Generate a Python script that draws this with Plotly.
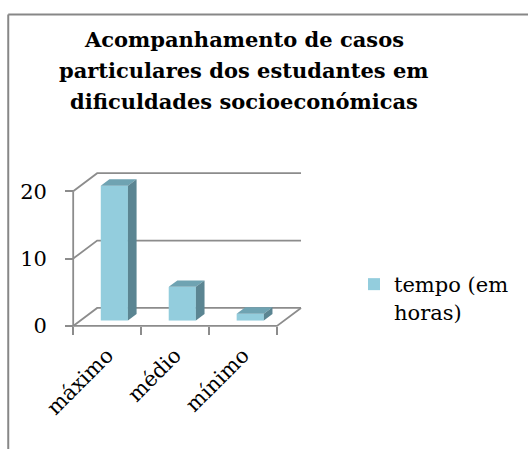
import plotly.graph_objects as go

# ---- data -------------------------------------------------------------
categories = ["máximo", "médio", "mínimo"]
horas = [20, 5, 1]
y_ticks = [0, 10, 20]
series_name = "tempo (em<br>horas)"
title_lines = [
    "Acompanhamento de casos",
    "particulares dos estudantes em",
    "dificuldades socioeconómicas",
]

# ---- geometry of the pseudo-3D box (axis units) -----------------------
W, H = 528, 449
PX_X, PX_Y = 68.0, 6.725          # pixels per category / per hour
X0_PX, Y0_PX = 73.0, 326.0        # pixel position of the front-left floor corner
X_RANGE = [-0.15, 3.5]
Y_RANGE = [-0.6, 23.3]

DX, DY = 24 / PX_X, 18 / PX_Y      # floor depth vector
BAR_W = 0.4                         # bar width (categories)
BAR_Z = 0.3                         # depth of the bar front faces
BAR_D = 0.36                        # bar depth, share of floor depth

GRID = "#8c8c8c"
FRONT, TOP, SIDE = "#93cddd", "#6fa3b2", "#5b8592"
FONT = "DejaVu Serif"
TXT = 21

left = X0_PX + X_RANGE[0] * PX_X
right = X0_PX + X_RANGE[1] * PX_X
top = Y0_PX - Y_RANGE[1] * PX_Y
bottom = Y0_PX - Y_RANGE[0] * PX_Y
plot_w, plot_h = right - left, bottom - top


def paper_x(px):
    return (px - left) / plot_w


def paper_y(py):
    return (bottom - py) / plot_h


n = len(categories)
centers = [i + 0.5 for i in range(n)]
bar_x = [c + BAR_Z * DX for c in centers]
base = BAR_Z * DY
ddx, ddy = BAR_D * DX, BAR_D * DY

fig = go.Figure()

# front faces of the columns
fig.add_trace(go.Bar(
    x=bar_x, y=horas, base=[base] * n, width=BAR_W,
    marker=dict(color=FRONT, line=dict(width=0)),
    name=series_name, hoverinfo="skip",
))

# top and right-hand faces
top_x, top_y, side_x, side_y = [], [], [], []
for xc, v in zip(bar_x, horas):
    xl, xr = xc - BAR_W / 2, xc + BAR_W / 2
    yb, yt = base, base + v
    top_x += [xl, xr, xr + ddx, xl + ddx, xl, None]
    top_y += [yt, yt, yt + ddy, yt + ddy, yt, None]
    side_x += [xr, xr + ddx, xr + ddx, xr, xr, None]
    side_y += [yb, yb + ddy, yt + ddy, yt, yb, None]

for fx, fy, col in ((top_x, top_y, TOP), (side_x, side_y, SIDE)):
    fig.add_trace(go.Scatter(
        x=fx, y=fy, mode="lines", fill="toself", fillcolor=col,
        line=dict(width=0, color=col), showlegend=False, hoverinfo="skip",
    ))

# walls, floor and gridlines
shapes = []
line = dict(color=GRID, width=1.8)
for v in y_ticks:
    shapes.append(dict(
        type="path", xref="x", yref="y", layer="below", line=line,
        path=f"M0,{v} L{DX},{v + DY} L{n + DX},{v + DY}",
    ))
shapes.append(dict(type="path", xref="x", yref="y", layer="below", line=line,
                   path=f"M0,0 L{n},0 L{n + DX},{DY}"))
shapes.append(dict(type="path", xref="x", yref="y", layer="below", line=line,
                   path=f"M0,0 L0,{max(y_ticks)}"))

# chart-area frame
frame = dict(color="#878787", width=2)
shapes.append(dict(type="line", xref="paper", yref="paper", line=frame,
                   x0=paper_x(8), x1=paper_x(8), y0=paper_y(15), y1=paper_y(470)))
shapes.append(dict(type="line", xref="paper", yref="paper", line=frame,
                   x0=paper_x(8), x1=paper_x(560), y0=paper_y(15), y1=paper_y(15)))

# title, one annotation per line
annotations = []
for txt, yc in zip(title_lines, [40, 71, 102]):
    annotations.append(dict(
        text=f"<b>{txt}</b>", xref="paper", yref="paper",
        x=paper_x(244), y=paper_y(yc), xanchor="center", yanchor="middle",
        showarrow=False, font=dict(family=FONT, size=21, color="black"),
    ))

fig.update_layout(
    width=W, height=H,
    margin=dict(l=left, r=W - right, t=top, b=H - bottom, pad=0),
    paper_bgcolor="white", plot_bgcolor="white",
    font=dict(family=FONT, size=TXT, color="black"),
    shapes=shapes, annotations=annotations,
    showlegend=True,
    legend=dict(
        xref="container", yref="container",
        x=354 / W, y=1 - 264 / H, xanchor="left", yanchor="top",
        font=dict(family=FONT, size=TXT, color="black"),
        itemwidth=30, valign="top", bgcolor="rgba(0,0,0,0)",
    ),
    xaxis=dict(
        range=X_RANGE, anchor="free", position=paper_y(Y0_PX),
        tickvals=centers, ticktext=categories, tickangle=-45,
        ticks="", showgrid=False, zeroline=False, showline=False,
        minor=dict(tickvals=list(range(n + 1)), ticks="outside",
                   ticklen=8, tickwidth=1.8, tickcolor=GRID, showgrid=False),
        tickfont=dict(family=FONT, size=TXT, color="black"),
        ticklabelstandoff=12, fixedrange=True,
    ),
    yaxis=dict(
        range=Y_RANGE, anchor="free", position=paper_x(X0_PX),
        tickvals=y_ticks, ticks="outside", ticklen=8, tickwidth=1.8,
        tickcolor=GRID, showgrid=False, zeroline=False, showline=False,
        tickfont=dict(family=FONT, size=TXT, color="black"),
        ticklabelstandoff=14, fixedrange=True,
    ),
)

fig.write_html("out.html")
